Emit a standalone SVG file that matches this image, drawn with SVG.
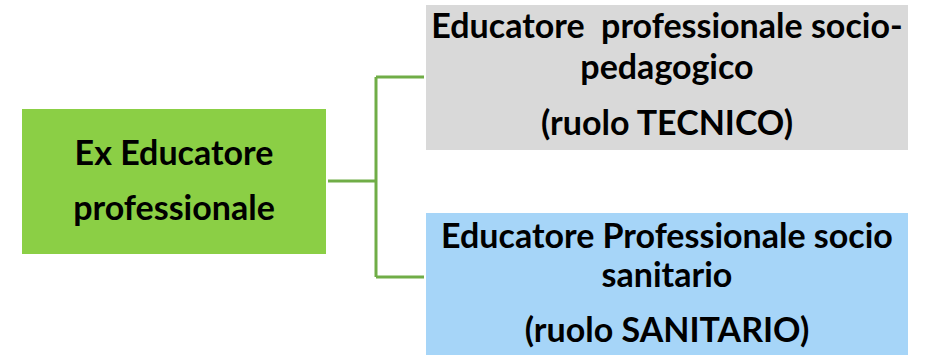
<svg xmlns="http://www.w3.org/2000/svg" width="926" height="355" viewBox="0 0 926 355">
<style>
.t{font-family:Lato,"Liberation Sans",sans-serif;font-weight:bold;font-size:34px;fill:#000;text-anchor:middle}
.c{fill:none;stroke:#70AD47;stroke-width:3}
</style>
<rect width="926" height="355" fill="#fff"/>
<g id="connectors">
<path class="c" d="M328,181H376M376,77V277M376,77H424M376,277H424"/>
</g>
<g id="ex-educatore">
<rect x="22" y="109" width="304" height="145" fill="#8BCF45"/>
<text class="t" x="174" y="165">Ex Educatore</text>
<text class="t" x="174" y="220">professionale</text>
</g>
<g id="socio-pedagogico">
<rect x="426" y="5" width="482" height="145" fill="#D9D9D9"/>
<text class="t" x="667" y="38" xml:space="preserve">Educatore  professionale socio-</text>
<text class="t" x="667" y="79">pedagogico</text>
<text class="t" x="667" y="135">(ruolo TECNICO)</text>
</g>
<g id="socio-sanitario">
<rect x="426" y="213" width="482" height="142" fill="#A6D5F8"/>
<text class="t" x="667" y="248">Educatore Professionale socio</text>
<text class="t" x="667" y="287">sanitario</text>
<text class="t" x="667" y="342">(ruolo SANITARIO)</text>
</g>
</svg>
